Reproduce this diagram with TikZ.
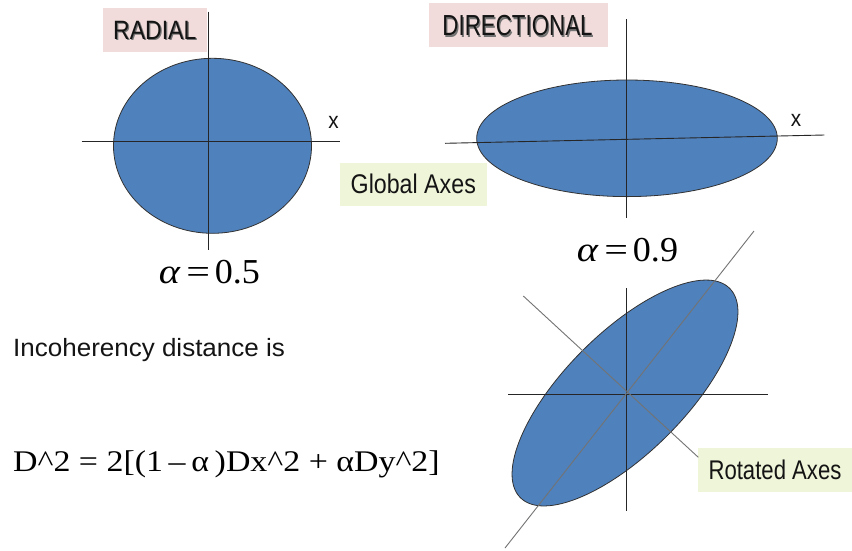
\documentclass[tikz,border=0pt]{standalone}
\usepackage{graphicx}
\usepackage{fontspec}
\setmainfont{Liberation Serif}
\setsansfont{Liberation Sans}
\definecolor{ellfill}{RGB}{79,129,189}
\definecolor{ellline}{RGB}{50,50,50}
\definecolor{pinkbox}{RGB}{242,220,219}
\definecolor{greenbox}{RGB}{239,245,216}
\definecolor{txt}{RGB}{20,20,20}
\newcommand{\hsq}[2]{\scalebox{#1}[1]{#2}}
\newcommand{\alphaeq}[1]{\hsq{1.15}{\textit{α}}\kern5.5pt\hsq{1.2}{=}\kern5pt\hsq{1.03}{#1}}
\tikzset{
  ell/.style={fill=ellfill, draw=ellline, line width=0.8pt},
  axis/.style={draw=black!85, line width=0.9pt},
  gaxis/.style={draw=black!55, line width=0.9pt},
  titlebox/.style={fill=pinkbox, minimum height=43.4pt, inner sep=0pt},
  titletxt/.style={inner sep=0pt, text=txt, font=\sffamily\fontsize{26.5}{26.5}\selectfont},
  shadowtxt/.style={inner sep=0pt, text=black!55, font=\sffamily\fontsize{26.5}{26.5}\selectfont},
  notebox/.style={fill=greenbox, minimum height=43.4pt, inner sep=0pt, text=txt,
    font=\sffamily\fontsize{27}{27}\selectfont},
  axlabel/.style={text=txt, font=\sffamily\fontsize{23}{23}\selectfont, inner sep=0pt},
  alphalbl/.style={text=black, font=\fontsize{35}{35}\selectfont, inner sep=0pt},
}
\begin{document}
\begin{tikzpicture}[x=1pt,y=-1pt]
\useasboundingbox[fill=white] (0,0) rectangle (852,550);

% ---- RADIAL ----
\node[titlebox, minimum width=104pt] (radbox) at (154.7,30) {};
\node[shadowtxt] (radshadow) at (156,31.6) {\hsq{0.87}{RADIAL}};
\node[titletxt] (radtxt) at (154.8,30.4) {\hsq{0.87}{RADIAL}};
\fill[ell] (212.5,145.8) ellipse [x radius=99, y radius=87.5];
\coordinate (rh1) at (81.7,141.7);
\coordinate (rh2) at (340,141.7);
\coordinate (rv1) at (208.3,11.7);
\coordinate (rv2) at (208.3,250);
\draw[axis] (rh1) -- (rh2);
\draw[axis] (rv1) -- (rv2);
\node[axlabel] (radx) at (333.5,122) {\hsq{0.9}{x}};
\node[alphalbl, anchor=base] (alpha1) at (209.5,283) {\alphaeq{0.5}};

% ---- DIRECTIONAL ----
\node[titlebox, minimum width=179pt] (dirbox) at (518.8,25) {};
\node[shadowtxt, font=\sffamily\fontsize{29}{29}\selectfont] (dirshadow) at (518.8,27.2) {\hsq{0.77}{DIRECTIONAL}};
\node[titletxt, font=\sffamily\fontsize{29}{29}\selectfont] (dirtxt) at (517.5,26) {\hsq{0.77}{DIRECTIONAL}};
\fill[ell] (627,138.3) ellipse [x radius=150.3, y radius=58.3];
\coordinate (dh1) at (445,143.3);
\coordinate (dh2) at (824.3,135);
\coordinate (dv1) at (626.7,19.3);
\coordinate (dv2) at (626.7,218);
\draw[axis] (dh1) -- (dh2);
\draw[axis] (dv1) -- (dv2);
\node[axlabel] (dirx) at (796,120) {\hsq{0.9}{x}};
\node[notebox, minimum width=146.7pt] (global) at (413.3,184.2) {\hsq{0.86}{Global Axes}};
\node[alphalbl, anchor=base] (alpha2) at (627.5,261) {\alphaeq{0.9}};

% ---- ROTATED ----
\fill[ell, rotate around={45:(625,393)}] (625,393) ellipse [x radius=148, y radius=60];
\coordinate (oh1) at (508.3,394.3);
\coordinate (oh2) at (768.3,394.3);
\coordinate (ov1) at (626.7,288.3);
\coordinate (ov2) at (626.7,511);
\coordinate (om1) at (505,548);
\coordinate (om2) at (754,231);
\coordinate (on1) at (523.3,296);
\coordinate (on2) at (698.3,457.3);
\draw[axis] (oh1) -- (oh2);
\draw[axis] (ov1) -- (ov2);
\draw[gaxis] (om1) -- (om2);
\node[notebox, minimum width=153.4pt] (rotbox) at (775,470) {\hsq{0.82}{Rotated Axes}};
\draw[gaxis] (on1) -- (on2);

% ---- text ----
\node[anchor=base west, inner sep=0pt, text=txt, font=\sffamily\fontsize{25}{25}\selectfont] (incoh) at (13,356) {\hsq{1.04}{Incoherency distance is}};
\node[anchor=base west, inner sep=0pt, text=black, font=\fontsize{30}{30}\selectfont] (eqn) at (13,471.7) {\hsq{1.13}{D\^{}2 = 2[(1\,–\,α\,)Dx\^{}2 + αDy\^{}2]}};
\end{tikzpicture}
\end{document}
